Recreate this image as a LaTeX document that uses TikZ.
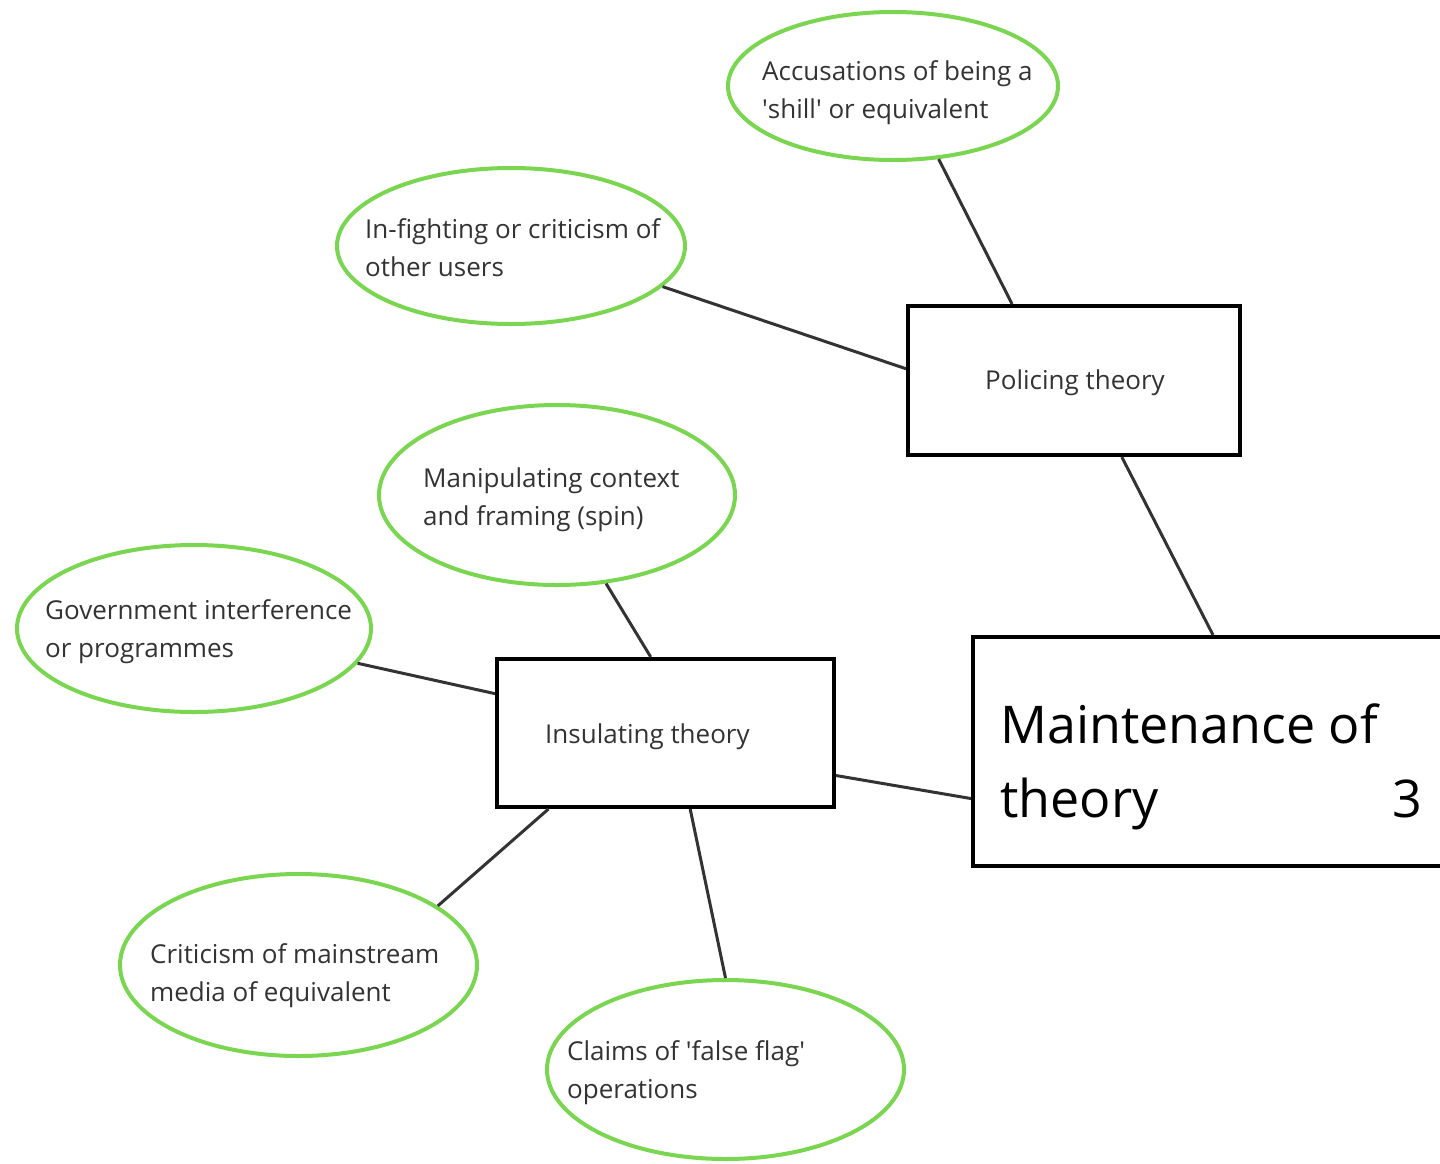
\documentclass[tikz,border=0pt]{standalone}
\usepackage{fontspec}
\setmainfont{Open Sans}
\usetikzlibrary{shapes.geometric}
\definecolor{leafgreen}{RGB}{122,214,80}
\definecolor{inkgray}{RGB}{51,51,51}
\begin{document}
\begin{tikzpicture}[x=1pt, y=-1pt,
    leaf/.style={ellipse, draw=leafgreen, line width=4pt, inner sep=0pt},
    theorybox/.style={rectangle, draw=black, line width=4pt, inner sep=0pt},
    txt/.style={anchor=base west, align=left, inner sep=0pt, text=inkgray, font=\fontsize{26}{38}\selectfont},
    bigtxt/.style={inner sep=0pt, text=black, font=\fontsize{52}{74}\selectfont},
    link/.style={draw=inkgray, line width=3pt}]
      \useasboundingbox (0,0) rectangle (1440,1163);
      \clip (0,0) rectangle (1440,1163);
      \node[theorybox, minimum width=480, minimum height=229] (th0) at (1213,751.5){};
      \node[bigtxt, anchor=base west, align=left] (th0t) at (1000,817){Maintenance of\\theory};
      \node[bigtxt, anchor=base east] (th0n) at (1422,817){3};
      \node[theorybox, minimum width=332, minimum height=149] (th1) at (1074,380.5){};
      \node[txt] (th1t) at (985,389){Policing theory};
      \node[leaf, minimum width=330, minimum height=148] (lf1) at (893,86){};
      \node[txt] (lf1t) at (762,118){Accusations of being a\\\textquotesingle shill\textquotesingle{} or equivalent};
      \node[leaf, minimum width=348, minimum height=156] (lf2) at (511,246){};
      \node[txt] (lf2t) at (365,276){In-fighting or criticism of\\other users};
      \draw[link](lf1.-58) -- (th1.129);
      \draw[link](lf2.-15) -- (th1.176);
      \draw[link](th1.-58) -- (th0.90);
      \node[theorybox, minimum width=337, minimum height=148] (th2) at (665.5,733){};
      \node[txt] (th2t) at (545,743){Insulating theory};
      \node[leaf, minimum width=356, minimum height=180] (lf3) at (557,495){};
      \node[txt] (lf3t) at (423,525){Manipulating context\\and framing (spin)};
      \node[leaf, minimum width=354, minimum height=167] (lf4) at (194,628.5){};
      \node[txt] (lf4t) at (45,657){Government interference\\or programmes};
      \node[leaf, minimum width=357, minimum height=182] (lf5) at (298.5,965){};
      \node[txt] (lf5t) at (150,1001){Criticism of mainstream\\media of equivalent};
      \node[leaf, minimum width=357, minimum height=179] (lf6) at (725.5,1069.5){};
      \node[txt] (lf6t) at (567,1098){Claims of \textquotesingle false flag\textquotesingle\\operations};
      \draw[link](lf3.-61) -- (th2.101);
      \draw[link](lf4.-12) -- (th2.167);
      \draw[link](th2.-147) -- (lf5.23);
      \draw[link](th2.-72) -- (lf6.90);
      \draw[link](th2.-14) -- (th0.191);

    \end{tikzpicture}
\end{document}
